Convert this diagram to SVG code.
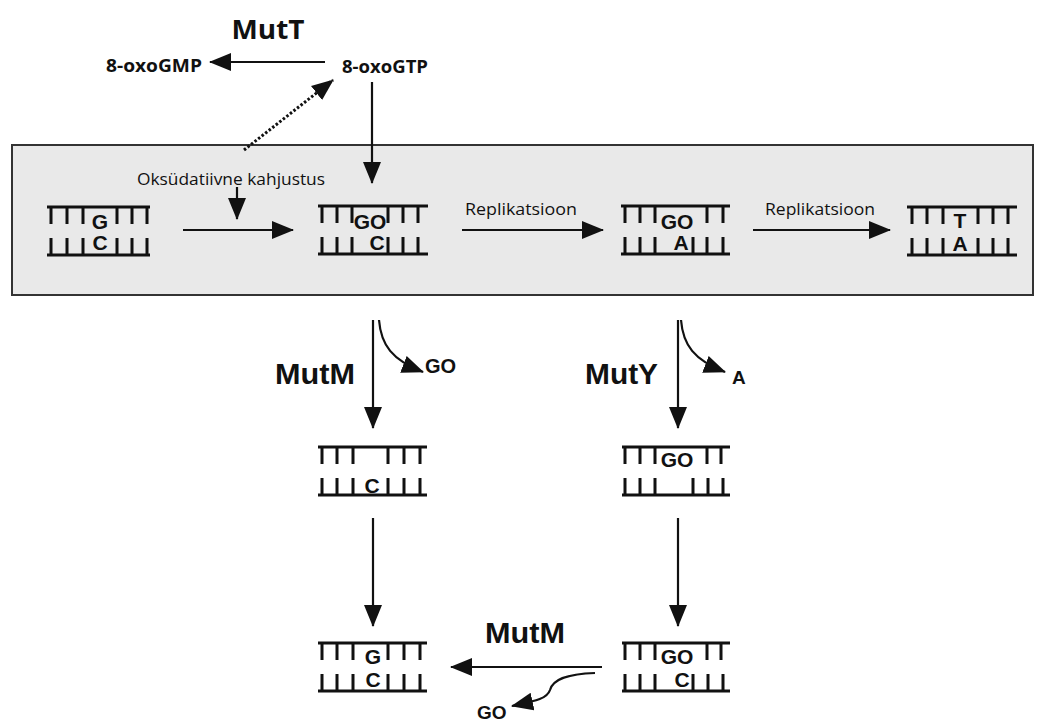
<svg xmlns="http://www.w3.org/2000/svg" width="1037" height="722" viewBox="0 0 1037 722">
<style>
.c{font-family:"Open Sans","Liberation Sans",sans-serif;fill:#111}
.cb{font-family:"Open Sans","Liberation Sans",sans-serif;font-weight:bold;fill:#111}
.a{font-family:"Liberation Sans",Arial,sans-serif;font-weight:bold;fill:#111}
.n{font-family:"Liberation Sans",Arial,sans-serif;font-weight:bold;fill:#111;font-size:21px;text-anchor:middle}
.strand{stroke:#111;stroke-width:3;fill:none}
.tick{stroke:#111;stroke-width:3;fill:none}
.conn{stroke:#111;stroke-width:2.2;fill:none}
.dot{stroke:#111;stroke-width:3;stroke-dasharray:2.5,2;fill:none}
</style>
<defs>
<marker id="ah" viewBox="0 0 22 18" refX="21" refY="9" markerWidth="22" markerHeight="18" markerUnits="userSpaceOnUse" orient="auto">
<path d="M0,0 L22,9 L0,18 z" fill="#111"/>
</marker>
</defs>
<rect width="1037" height="722" fill="#fff"/>
<rect id="band" x="12" y="145" width="1021" height="150" fill="#e9e9e9" stroke="#333" stroke-width="2"/>

<g id="connectors">
<line class="conn" x1="325" y1="62" x2="210" y2="62" marker-end="url(#ah)"/>
<line class="dot" x1="244" y1="150" x2="333" y2="80" marker-end="url(#ah)"/>
<line class="conn" x1="372" y1="82" x2="372" y2="183" marker-end="url(#ah)"/>
<line class="conn" x1="237" y1="187" x2="237" y2="219" marker-end="url(#ah)"/>
<line class="conn" x1="183" y1="230" x2="293" y2="230" marker-end="url(#ah)"/>
<line class="conn" x1="462" y1="230" x2="603" y2="230" marker-end="url(#ah)"/>
<line class="conn" x1="753" y1="230" x2="890" y2="230" marker-end="url(#ah)"/>
<line class="conn" x1="373" y1="320" x2="373" y2="428" marker-end="url(#ah)"/>
<path class="conn" d="M379,320 C381,345 392,360 423,372" marker-end="url(#ah)"/>
<line class="conn" x1="678" y1="320" x2="678" y2="428" marker-end="url(#ah)"/>
<path class="conn" d="M681,320 C683,345 694,360 725,372" marker-end="url(#ah)"/>
<line class="conn" x1="373" y1="518" x2="373" y2="626" marker-end="url(#ah)"/>
<line class="conn" x1="678" y1="518" x2="678" y2="626" marker-end="url(#ah)"/>
<line class="conn" x1="602" y1="667" x2="451" y2="667" marker-end="url(#ah)"/>
<path class="conn" d="M595,673 C565,674 553,680 550,690 C547,699 535,701 512,706" marker-end="url(#ah)"/>
</g>

<g id="labels">
<text class="cb" x="268" y="39" font-size="27" text-anchor="middle" textLength="73" lengthAdjust="spacingAndGlyphs">MutT</text>
<text class="c" x="137" y="185" font-size="17" textLength="188" lengthAdjust="spacingAndGlyphs">Oksüdatiivne kahjustus</text>
<text class="c" x="465" y="215" font-size="17" textLength="112" lengthAdjust="spacingAndGlyphs">Replikatsioon</text>
<text class="c" x="765" y="215" font-size="17" textLength="110" lengthAdjust="spacingAndGlyphs">Replikatsioon</text>
<text class="a" x="275" y="384" font-size="29" textLength="80" lengthAdjust="spacingAndGlyphs">MutM</text>
<text class="a" x="585" y="384" font-size="29" textLength="73" lengthAdjust="spacingAndGlyphs">MutY</text>
<text class="a" x="425" y="373" font-size="20">GO</text>
<text class="a" x="732" y="384" font-size="19">A</text>
<text class="a" x="485" y="643" font-size="29" textLength="80" lengthAdjust="spacingAndGlyphs">MutM</text>
<text class="a" x="477" y="719" font-size="19">GO</text>
</g>

<g id="n-8oxoGMP"><text class="cb" x="106" y="72" font-size="18" textLength="96" lengthAdjust="spacingAndGlyphs">8-oxoGMP</text></g>
<g id="n-8oxoGTP"><text class="cb" x="342" y="73" font-size="18" textLength="86" lengthAdjust="spacingAndGlyphs">8-oxoGTP</text></g>

<g id="dna-GC">
<path class="strand" d="M47,207 H150 M47,255 H150"/>
<path class="tick" d="M51,207 v17 M67,207 v17 M83,207 v17 M117,207 v17 M132,207 v17 M147,207 v17 M51,238 v17 M67,238 v17 M83,238 v17 M117,238 v17 M132,238 v17 M147,238 v17"/>
<text class="n" x="100" y="229">G</text>
<text class="n" x="100" y="250">C</text>
</g>

<g id="dna-GOC">
<path class="strand" d="M318,206 H428 M318,254 H428"/>
<path class="tick" d="M322,206 v17 M337,206 v17 M352,206 v17 M388,206 v17 M403,206 v17 M418,206 v17 M322,237 v17 M337,237 v17 M352,237 v17 M388,237 v17 M403,237 v17 M418,237 v17"/>
<text class="n" x="370" y="229">GO</text>
<text class="n" x="377" y="250">C</text>
</g>

<g id="dna-GOA">
<path class="strand" d="M621,206 H730 M621,254 H730"/>
<path class="tick" d="M625,206 v17 M640,206 v17 M655,206 v17 M707,206 v17 M723,206 v17 M625,237 v17 M640,237 v17 M655,237 v17 M693,237 v17 M707,237 v17 M723,237 v17"/>
<text class="n" x="677" y="229">GO</text>
<text class="n" x="681" y="250">A</text>
</g>

<g id="dna-TA">
<path class="strand" d="M907,207 H1017 M907,255 H1017"/>
<path class="tick" d="M912,207 v17 M927,207 v17 M943,207 v17 M978,207 v17 M993,207 v17 M1008,207 v17 M912,238 v17 M927,238 v17 M943,238 v17 M978,238 v17 M993,238 v17 M1008,238 v17"/>
<text class="n" x="960" y="228">T</text>
<text class="n" x="960" y="251">A</text>
</g>

<g id="dna-C">
<path class="strand" d="M318,447 H427 M318,495 H427"/>
<path class="tick" d="M322,447 v17 M337,447 v17 M353,447 v17 M388,447 v17 M404,447 v17 M420,447 v17 M322,478 v17 M337,478 v17 M353,478 v17 M388,478 v17 M404,478 v17 M420,478 v17"/>
<text class="n" x="372" y="493">C</text>
</g>

<g id="dna-GO">
<path class="strand" d="M622,447 H730 M622,495 H730"/>
<path class="tick" d="M625,447 v17 M640,447 v17 M655,447 v17 M707,447 v17 M721,447 v17 M625,478 v17 M640,478 v17 M655,478 v17 M693,478 v17 M708,478 v17 M723,478 v17"/>
<text class="n" x="677" y="467">GO</text>
</g>

<g id="dna-GC2">
<path class="strand" d="M318,643 H427 M318,691 H427"/>
<path class="tick" d="M322,643 v17 M337,643 v17 M353,643 v17 M388,643 v17 M404,643 v17 M420,643 v17 M322,674 v17 M337,674 v17 M353,674 v17 M388,674 v17 M404,674 v17 M420,674 v17"/>
<text class="n" x="373" y="664">G</text>
<text class="n" x="373" y="687">C</text>
</g>

<g id="dna-GOC2">
<path class="strand" d="M622,643 H730 M622,691 H730"/>
<path class="tick" d="M625,643 v17 M640,643 v17 M655,643 v17 M707,643 v17 M721,643 v17 M625,674 v17 M640,674 v17 M655,674 v17 M693,674 v17 M708,674 v17 M723,674 v17"/>
<text class="n" x="677" y="664">GO</text>
<text class="n" x="682" y="687">C</text>
</g>
</svg>
